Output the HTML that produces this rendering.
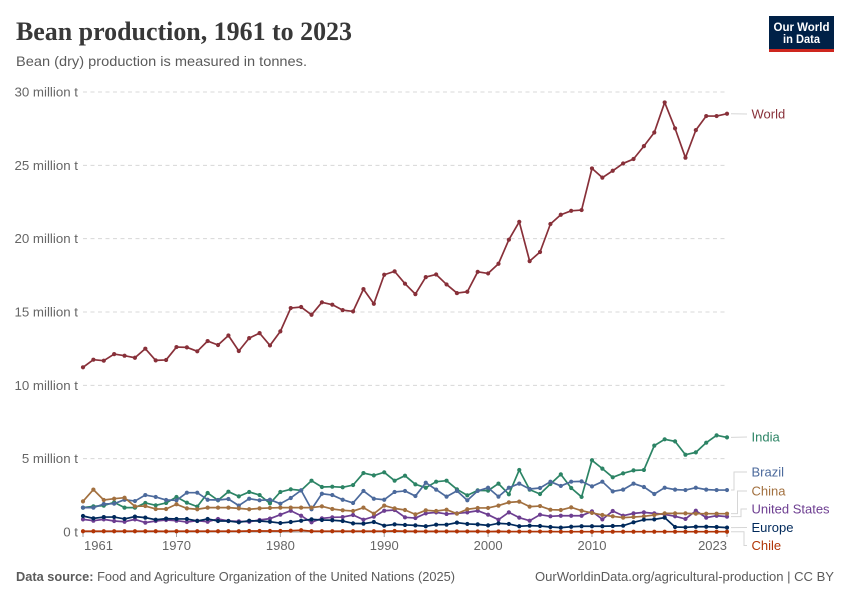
<!DOCTYPE html>
<html lang="en">
<head>
<meta charset="utf-8">
<title>Bean production, 1961 to 2023</title>
<style>
html,body{margin:0;padding:0;background:#fff;}
#chart{display:block;width:850px;height:600px;font-family:"Liberation Sans",sans-serif;}
</style>
</head>
<body>
<svg id="chart" xmlns="http://www.w3.org/2000/svg" width="850" height="600" viewBox="0 0 850 600">
  <rect x="0" y="0" width="850" height="600" fill="#fff"/>
  <text x="16" y="40" font-family="'Liberation Serif',serif" font-weight="700" font-size="26" fill="#383838" textLength="336" lengthAdjust="spacingAndGlyphs">Bean production, 1961 to 2023</text>
  <text x="16" y="66" font-size="14" fill="#5b5b5b" textLength="291" lengthAdjust="spacingAndGlyphs">Bean (dry) production is measured in tonnes.</text>

  <g>
    <rect x="769" y="16" width="65" height="33" fill="#002147"/>
    <rect x="769" y="49" width="65" height="3" fill="#ce261e"/>
    <text x="801.5" y="31" text-anchor="middle" font-size="12" font-weight="700" fill="#fff" textLength="56" lengthAdjust="spacingAndGlyphs">Our World</text>
    <text x="801.5" y="43" text-anchor="middle" font-size="12" font-weight="700" fill="#fff" textLength="37" lengthAdjust="spacingAndGlyphs">in Data</text>
  </g>

  <g id="grid"></g>
  <g id="yLabels"></g>
  <g id="xAxis"></g>
  <g id="connectors"></g>
  <g id="series"></g>
  <g id="labels"></g>

  <text x="16" y="581" font-size="12.5" fill="#5b5b5b" textLength="439" lengthAdjust="spacingAndGlyphs"><tspan font-weight="700">Data source:</tspan> Food and Agriculture Organization of the United Nations (2025)</text>
  <text x="535" y="581" font-size="12.5" fill="#5b5b5b" textLength="299" lengthAdjust="spacingAndGlyphs">OurWorldinData.org/agricultural-production | CC BY</text>
</svg>
<script>
const years = [1961,1962,1963,1964,1965,1966,1967,1968,1969,1970,1971,1972,1973,1974,1975,1976,1977,1978,1979,1980,1981,1982,1983,1984,1985,1986,1987,1988,1989,1990,1991,1992,1993,1994,1995,1996,1997,1998,1999,2000,2001,2002,2003,2004,2005,2006,2007,2008,2009,2010,2011,2012,2013,2014,2015,2016,2017,2018,2019,2020,2021,2022,2023];
const world = [11.23,11.75,11.68,12.13,12.02,11.88,12.5,11.7,11.73,12.61,12.59,12.32,13.02,12.75,13.4,12.34,13.22,13.56,12.72,13.68,15.27,15.34,14.81,15.66,15.5,15.13,15.04,16.56,15.56,17.54,17.77,16.93,16.22,17.38,17.56,16.88,16.29,16.38,17.74,17.63,18.29,19.93,21.15,18.47,19.09,21.0,21.63,21.9,21.95,24.79,24.16,24.63,25.13,25.43,26.31,27.24,29.29,27.52,25.52,27.4,28.36,28.36,28.52];
const india = [1.66,1.75,1.8,2.02,1.66,1.66,1.98,1.82,1.98,2.39,2.0,1.73,2.66,2.16,2.75,2.43,2.73,2.52,1.95,2.73,2.91,2.84,3.5,3.07,3.09,3.05,3.2,4.02,3.86,4.07,3.5,3.84,3.25,3.02,3.43,3.5,2.91,2.5,2.84,2.82,3.3,2.57,4.23,2.89,2.59,3.27,3.93,3.0,2.39,4.89,4.32,3.73,4.0,4.2,4.23,5.89,6.32,6.18,5.27,5.43,6.09,6.59,6.45];
const brazil = [1.66,1.66,1.91,1.93,2.2,2.11,2.52,2.39,2.18,2.16,2.68,2.68,2.2,2.18,2.25,1.8,2.27,2.16,2.2,1.93,2.32,2.84,1.55,2.61,2.52,2.2,1.98,2.8,2.27,2.2,2.73,2.8,2.45,3.36,2.89,2.41,2.8,2.16,2.8,3.02,2.41,3.02,3.3,2.93,3.0,3.43,3.14,3.43,3.45,3.11,3.43,2.77,2.89,3.3,3.07,2.59,3.02,2.89,2.86,3.02,2.89,2.86,2.86];
const china = [2.09,2.89,2.18,2.27,2.34,1.75,1.77,1.57,1.57,1.89,1.61,1.55,1.66,1.66,1.66,1.61,1.55,1.61,1.64,1.66,1.66,1.66,1.66,1.75,1.57,1.48,1.43,1.66,1.25,1.8,1.61,1.5,1.2,1.48,1.43,1.52,1.25,1.55,1.64,1.64,1.8,2.02,2.07,1.73,1.77,1.52,1.5,1.68,1.45,1.3,1.16,1.07,0.98,1.02,1.07,1.16,1.27,1.27,1.27,1.25,1.25,1.25,1.25];
const unitedStates = [0.86,0.77,0.86,0.75,0.7,0.86,0.64,0.75,0.82,0.77,0.68,0.77,0.7,0.89,0.75,0.73,0.7,0.82,0.91,1.18,1.45,1.11,0.66,0.93,1.0,1.02,1.16,0.84,1.05,1.45,1.5,1.0,0.95,1.27,1.34,1.23,1.27,1.34,1.45,1.18,0.84,1.34,0.98,0.77,1.18,1.07,1.11,1.11,1.11,1.41,0.86,1.43,1.11,1.27,1.34,1.27,1.2,1.07,0.89,1.45,0.98,1.11,1.05];
const europe = [1.09,0.93,1.02,1.02,0.89,1.05,0.98,0.84,0.91,0.89,0.89,0.75,0.89,0.75,0.75,0.66,0.77,0.75,0.7,0.61,0.68,0.77,0.86,0.82,0.8,0.75,0.59,0.57,0.68,0.43,0.52,0.48,0.45,0.39,0.5,0.5,0.64,0.55,0.52,0.45,0.59,0.55,0.39,0.43,0.41,0.34,0.3,0.36,0.39,0.39,0.39,0.41,0.43,0.66,0.84,0.86,0.98,0.34,0.32,0.36,0.36,0.34,0.3];
const chile = [0.05,0.05,0.05,0.05,0.05,0.05,0.05,0.05,0.04,0.05,0.05,0.05,0.05,0.05,0.05,0.05,0.07,0.07,0.07,0.07,0.09,0.12,0.05,0.05,0.05,0.05,0.05,0.05,0.05,0.05,0.07,0.05,0.04,0.04,0.04,0.04,0.04,0.04,0.04,0.03,0.04,0.03,0.03,0.03,0.03,0.03,0.02,0.02,0.02,0.02,0.02,0.02,0.02,0.02,0.02,0.02,0.02,0.02,0.02,0.02,0.02,0.02,0.02];
const yTicks = [0,5,10,15,20,25,30];
const yTickLabels = ["0 t","5 million t","10 million t","15 million t","20 million t","25 million t","30 million t"];
const xTicks = [1961,1970,1980,1990,2000,2010,2023];
const seriesNames = ["World","India","Brazil","China","United States","Europe","Chile"];
const seriesValues = [world,india,brazil,china,unitedStates,europe,chile];
const seriesColors = ["#883039","#2c8465","#4c6a9c","#a2703f","#6d3e91","#00295b","#b13507"];

const NS = "http://www.w3.org/2000/svg";
const xMin = 83, xMax = 727, yBase = 532, yTop = 92;
function xScale(year){ return xMin + (year - years[0]) / (years[years.length-1] - years[0]) * (xMax - xMin); }
function yScale(v){ return yBase - v / yTicks[yTicks.length-1] * (yBase - yTop); }
function make(tag, attrs, parent, text){
  const el = document.createElementNS(NS, tag);
  for (const k in attrs) el.setAttribute(k, attrs[k]);
  if (text !== undefined) el.textContent = text;
  parent.appendChild(el);
  return el;
}

const grid = document.getElementById("grid");
const yLabels = document.getElementById("yLabels");
yTicks.forEach(function(t, i){
  if (t !== 0) {
    const g = make("line", {x1:xMin, x2:xMax, y1:yScale(t), y2:yScale(t), stroke:"#d8d8d8", "stroke-width":1, "stroke-dasharray":"4,3.5"}, grid);
    
    
  }
  const l = make("text", {x:78, y:yScale(t)+4.5, "text-anchor":"end", "font-size":13.3, fill:"#666666"}, yLabels, yTickLabels[i]);
  
  
});

const xAxis = document.getElementById("xAxis");
const baseLine = make("line", {x1:xMin, x2:xMax, y1:yBase, y2:yBase, stroke:"#a1a1a1", "stroke-width":1}, xAxis);


xTicks.forEach(function(t, i){
  const x = xScale(t);
  const tick = make("line", {x1:x, x2:x, y1:yBase, y2:yBase+5, stroke:"#a1a1a1", "stroke-width":1}, xAxis);
  
  
  const anchor = i === 0 ? "start" : (i === xTicks.length-1 ? "end" : "middle");
  const l = make("text", {x:i === 0 ? x + 1 : x, y:550, "text-anchor":anchor, "font-size":13, fill:"#666666"}, xAxis, String(t));
  
  
});

const labelY = [114,437,472,491,509,527.5,545.5];
const elbowX = [null,null,734,737.5,741,null,744];
const connectors = document.getElementById("connectors");
const labels = document.getElementById("labels");
seriesNames.forEach(function(name, i){
  const vals = seriesValues[i];
  const y0 = yScale(vals[vals.length-1]);
  const y1 = labelY[i];
  const ex = elbowX[i];
  const d = ex === null
    ? "M731," + y0 + " L747," + y1
    : "M731," + y0 + " H" + ex + " V" + y1 + " H747";
  const c = make("path", {d:d, fill:"none", stroke:"#d6d6d6", "stroke-width":1}, connectors);
  
  
  const t = make("text", {x:751.5, y:y1+4.5, "font-size":13, fill:seriesColors[i]}, labels, name);
  
  
});

const seriesG = document.getElementById("series");
const drawOrder = [0,1,2,4,3,5,6];
drawOrder.forEach(function(i){
  const vals = seriesValues[i];
  const g = make("g", {}, seriesG);
  
  
  const pts = vals.map(function(v, j){ return xScale(years[j]).toFixed(2) + "," + yScale(v).toFixed(2); }).join(" ");
  const line = make("polyline", {points:pts, fill:"none", stroke:seriesColors[i], "stroke-width":1.7, "stroke-linejoin":"round"}, g);
  
  
  vals.forEach(function(v, j){
    const p = make("circle", {cx:xScale(years[j]), cy:yScale(v), r:2.1, fill:seriesColors[i]}, g);
    
    
  });
});
</script>
</body>
</html>
